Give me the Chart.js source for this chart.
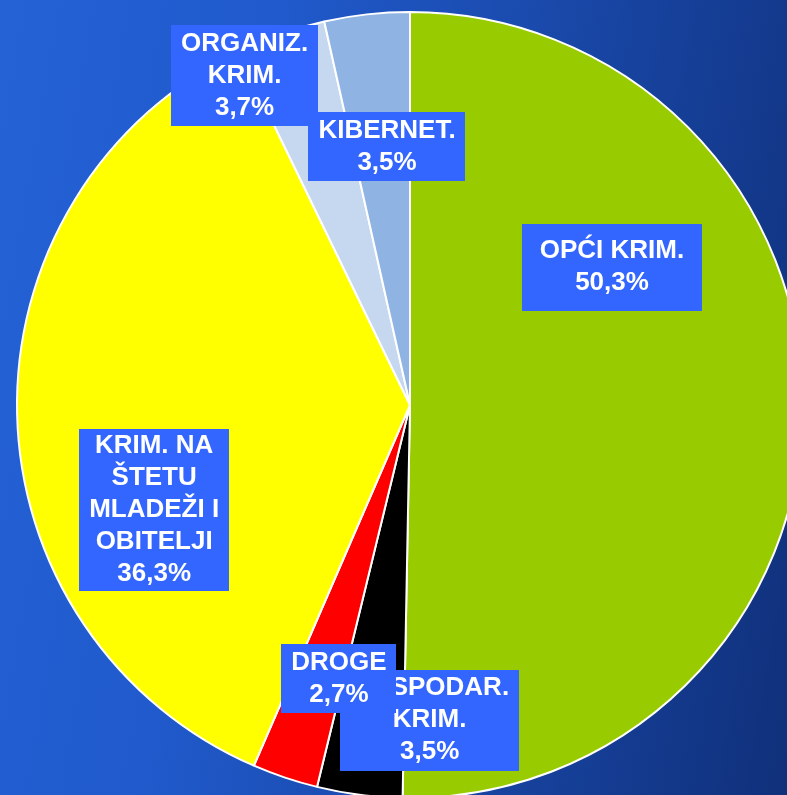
<!DOCTYPE html>
<html>
<head>
<meta charset="utf-8">
<script src="https://cdn.jsdelivr.net/npm/chart.js@4"></script>
<style>
  html, body { margin: 0; padding: 0; width: 787px; height: 795px; overflow: hidden; }
  body { background: linear-gradient(100deg, #2462d6 0%, #205acc 30%, #1a4aac 58%, #143c92 80%, #10307a 100%); }
  canvas { display: block; }
</style>
</head>
<body>
<canvas id="c" width="787" height="795"></canvas>
<script>
// ---- data ----
const categories = [
  ["OPĆI KRIM."],
  ["GOSPODAR.", "KRIM."],
  ["DROGE"],
  ["KRIM. NA", "ŠTETU", "MLADEŽI I", "OBITELJI"],
  ["ORGANIZ.", "KRIM."],
  ["KIBERNET."]
];
const shares = [50.3, 3.5, 2.7, 36.3, 3.7, 3.5];
const sliceColors = ["#99cc00", "#000000", "#ff0000", "#ffff00", "#c6d8f0", "#8fb3e2"];

// ---- label layout (fractions of pie radius from the centre) ----
const labelOffsets = [
  [0.514, -0.351],
  [0.050, 0.802],
  [-0.181, 0.696],
  [-0.651, 0.267],
  [-0.421, -0.838],
  [-0.0585, -0.658]
];
const labelExtraHeight = [23, 5, 5, 2, 5, 5];
const labelPadX = [18, 10, 10, 10, 10, 10];

const labelPlugin = {
  id: 'boxLabels',
  afterDatasetsDraw(chart) {
    const ctx = chart.ctx;
    const meta = chart.getDatasetMeta(0);
    const arc0 = meta.data[0];
    const cx = arc0.x, cy = arc0.y, r = arc0.outerRadius;
    const fs = 26, lh = 32;
    ctx.save();
    ctx.font = "bold " + fs + "px 'Liberation Sans', Arial, sans-serif";
    ctx.textAlign = 'center';
    ctx.textBaseline = 'middle';
    meta.data.forEach((arc, i) => {
      const lines = categories[i].concat([shares[i].toFixed(1).replace('.', ',') + '%']);
      const x = cx + labelOffsets[i][0] * r;
      const y = cy + labelOffsets[i][1] * r;
      let w = 0;
      lines.forEach(t => { w = Math.max(w, ctx.measureText(t).width); });
      w += 2 * labelPadX[i];
      const h = lines.length * lh + labelExtraHeight[i];
      ctx.fillStyle = '#3366ff';
      ctx.fillRect(Math.round(x - w / 2), Math.round(y - h / 2), Math.round(w), Math.round(h));
      ctx.fillStyle = '#ffffff';
      const top = y - (lines.length * lh) / 2 + lh / 2;
      lines.forEach((t, k) => ctx.fillText(t, x, top + k * lh));
    });
    ctx.restore();
  }
};

new Chart(document.getElementById('c'), {
  type: 'pie',
  data: {
    labels: categories.map(c => c.join(' ')),
    datasets: [{
      data: shares,
      backgroundColor: sliceColors,
      borderColor: '#ffffff',
      borderWidth: 2,
      clip: false
    }]
  },
  options: {
    responsive: false,
    animation: false,
    devicePixelRatio: 1,
    radius: 393,
    layout: { padding: { left: 33, top: 15, right: 0, bottom: 0 } },
    plugins: {
      legend: { display: false },
      tooltip: { enabled: false }
    }
  },
  plugins: [labelPlugin]
});
</script>
</body>
</html>
